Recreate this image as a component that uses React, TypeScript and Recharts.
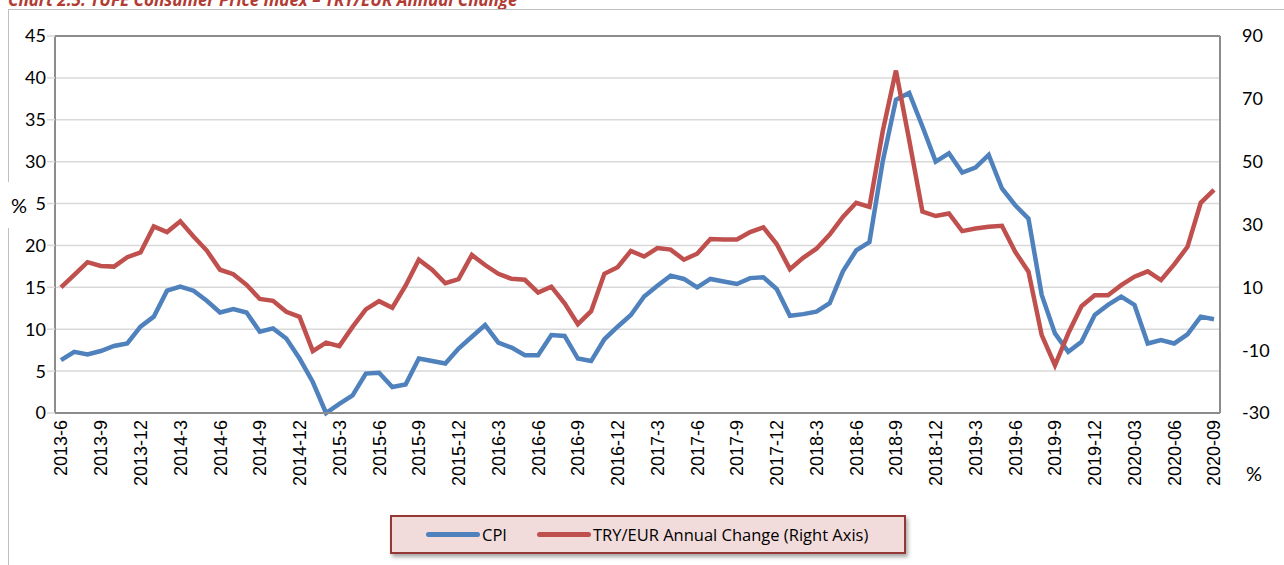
import React from "react";
import { LineChart, Line, XAxis, YAxis, CartesianGrid, ReferenceLine } from "recharts";

// monthly, 2013-6 .. 2020-09
const months = [
  "2013-6", "2013-7", "2013-8", "2013-9", "2013-10", "2013-11", "2013-12",
  "2014-1", "2014-2", "2014-3", "2014-4", "2014-5", "2014-6", "2014-7", "2014-8", "2014-9", "2014-10", "2014-11", "2014-12",
  "2015-1", "2015-2", "2015-3", "2015-4", "2015-5", "2015-6", "2015-7", "2015-8", "2015-9", "2015-10", "2015-11", "2015-12",
  "2016-1", "2016-2", "2016-3", "2016-4", "2016-5", "2016-6", "2016-7", "2016-8", "2016-9", "2016-10", "2016-11", "2016-12",
  "2017-1", "2017-2", "2017-3", "2017-4", "2017-5", "2017-6", "2017-7", "2017-8", "2017-9", "2017-10", "2017-11", "2017-12",
  "2018-1", "2018-2", "2018-3", "2018-4", "2018-5", "2018-6", "2018-7", "2018-8", "2018-9", "2018-10", "2018-11", "2018-12",
  "2019-1", "2019-2", "2019-3", "2019-4", "2019-5", "2019-6", "2019-7", "2019-8", "2019-9", "2019-10", "2019-11", "2019-12",
  "2020-01", "2020-02", "2020-03", "2020-04", "2020-05", "2020-06", "2020-07", "2020-08", "2020-09",
];

const cpi = [
  6.3, 7.3, 7.0, 7.4, 8.0, 8.3, 10.3,
  11.5, 14.6, 15.1, 14.6, 13.4, 12.0, 12.4, 12.0, 9.7, 10.1, 8.9, 6.5,
  3.7, 0.0, 1.1, 2.1, 4.7, 4.8, 3.1, 3.4, 6.5, 6.2, 5.9, 7.7,
  9.1, 10.5, 8.4, 7.8, 6.9, 6.9, 9.3, 9.2, 6.5, 6.2, 8.8, 10.3,
  11.7, 13.9, 15.2, 16.4, 16.0, 15.0, 16.0, 15.7, 15.4, 16.1, 16.2, 14.8,
  11.6, 11.8, 12.1, 13.1, 16.9, 19.4, 20.4, 30.0, 37.4, 38.2, 34.2, 30.0,
  31.0, 28.7, 29.3, 30.8, 26.8, 24.8, 23.2, 14.1, 9.5, 7.3, 8.5, 11.7,
  12.9, 13.9, 12.9, 8.3, 8.7, 8.3, 9.4, 11.5, 11.2,
];

const tryEur = [
  10.0, 14.0, 18.0, 16.8, 16.6, 19.6, 21.1,
  29.4, 27.6, 31.0, 26.2, 21.7, 15.6, 14.2, 10.8, 6.3, 5.7, 2.2, 0.6,
  -10.3, -7.6, -8.7, -2.6, 3.0, 5.6, 3.5, 10.5, 18.8, 15.6, 11.3, 12.6,
  20.3, 17.1, 14.3, 12.7, 12.4, 8.3, 10.2, 4.9, -1.7, 2.4, 14.3, 16.4,
  21.6, 19.8, 22.5, 22.0, 18.8, 20.7, 25.4, 25.2, 25.2, 27.6, 29.1, 23.8,
  15.8, 19.4, 22.3, 26.8, 32.4, 36.9, 35.6, 59.6, 79.0, 56.9, 34.1, 32.7,
  33.5, 27.9, 28.7, 29.3, 29.6, 21.3, 15.0, -5.2, -14.8, -4.7, 4.0, 7.5,
  7.5, 10.7, 13.4, 15.1, 12.3, 17.3, 22.9, 36.9, 41.0,
];

const leftTicks = [0, 5, 10, 15, 20, 25, 30, 35, 40, 45];
const rightTicks = [-30, -10, 10, 30, 50, 70, 90];

const chartData = months.map((m, i) => ({ month: m, cpi: cpi[i], fx: tryEur[i] }));

const BLUE = "#4f81bd";
const RED = "#c0504d";
const GRID = "#d9d9d9";
const AXIS = "#8c8c8c";

const MonthTick = ({ x, y, payload }: any) => (
  <text
    transform={`translate(${x},${y}) rotate(-90)`}
    textAnchor="end"
    dy="0.36em"
    fontSize={18}
    fontFamily="Liberation Sans, Arial, sans-serif"
    fill="#000"
  >
    {payload.value}
  </text>
);

const App = () => {
  return (
    <div style={{ position: "absolute", left: 0, top: 0, width: 1284, height: 565, background: "#fff", overflow: "hidden" }}>
      <div
        style={{
          position: "absolute", left: 8, top: -12, fontFamily: "Open Sans, sans-serif", fontWeight: 700,
          fontStyle: "italic", fontSize: 17, color: "#b23b33", whiteSpace: "nowrap",
        }}
      >
        Chart 2.5: TÜFE Consumer Price Index – TRY/EUR Annual Change
      </div>
      <div style={{ position: "absolute", left: 8, top: 9, width: 1300, height: 600, borderLeft: "1px solid #bfbfbf", borderTop: "1px solid #bfbfbf" }} />

      <div style={{ position: "absolute", left: 0, top: 0 }}>
        <LineChart width={1284} height={565} data={chartData} margin={{ top: 36, right: 14, left: 10, bottom: 72 }}>
          <CartesianGrid yAxisId="left" vertical={false} stroke={GRID} strokeWidth={1.5} />
          <XAxis
            dataKey="month"
            interval={2}
            tick={<MonthTick />}
            tickLine={false}
            tickSize={0}
            tickMargin={7}
            height={80}
            padding={{ left: 6, right: 6 }}
            axisLine={{ stroke: AXIS, strokeWidth: 2 }}
          />
          <YAxis
            yAxisId="left"
            domain={[0, 45]}
            ticks={leftTicks}
            width={45}
            tickSize={8}
            tickMargin={1}
            tickLine={{ stroke: GRID, strokeWidth: 1.5 }}
            axisLine={{ stroke: AXIS, strokeWidth: 2 }}
            tick={{ fill: "#000", fontSize: 18, fontFamily: "Lato, sans-serif" }}
          />
          <YAxis
            yAxisId="right"
            orientation="right"
            domain={[-30, 90]}
            ticks={rightTicks}
            width={50}
            tickSize={8}
            tickMargin={14}
            tickLine={false}
            axisLine={{ stroke: AXIS, strokeWidth: 2 }}
            tick={{ fill: "#000", fontSize: 18, fontFamily: "Lato, sans-serif", textAnchor: "start" }}
          />
          <ReferenceLine yAxisId="left" y={45} stroke={AXIS} strokeWidth={2} />
          <Line yAxisId="left" type="linear" dataKey="cpi" stroke={BLUE} strokeWidth={4.5} dot={false} isAnimationActive={false} />
          <Line yAxisId="right" type="linear" dataKey="fx" stroke={RED} strokeWidth={4.5} dot={false} isAnimationActive={false} />
        </LineChart>
      </div>

      <div
        style={{
          position: "absolute", left: 2, top: 182, width: 34, height: 46, background: "#fff",
          fontFamily: "Lato, sans-serif", fontSize: 20, lineHeight: "46px", textAlign: "center",
        }}
      >
        %
      </div>
      <div style={{ position: "absolute", left: 1246, top: 461, fontFamily: "Lato, sans-serif", fontSize: 20 }}>%</div>

      <div
        style={{
          position: "absolute", left: 390, top: 515, width: 512, height: 35, background: "#f2dcdb",
          border: "2px solid #953735", boxShadow: "2px 3px 4px rgba(0,0,0,0.35)",
          display: "flex", alignItems: "center", fontFamily: "Open Sans, sans-serif", fontSize: 16.5, color: "#000",
        }}
      >
        <span style={{ display: "inline-block", width: 54, height: 5, borderRadius: 3, background: BLUE, marginLeft: 34 }} />
        <span style={{ marginLeft: 2 }}>CPI</span>
        <span style={{ display: "inline-block", width: 54, height: 5, borderRadius: 3, background: RED, marginLeft: 30 }} />
        <span style={{ marginLeft: 2 }}>TRY/EUR Annual Change (Right Axis)</span>
      </div>
    </div>
  );
};

export default App;
